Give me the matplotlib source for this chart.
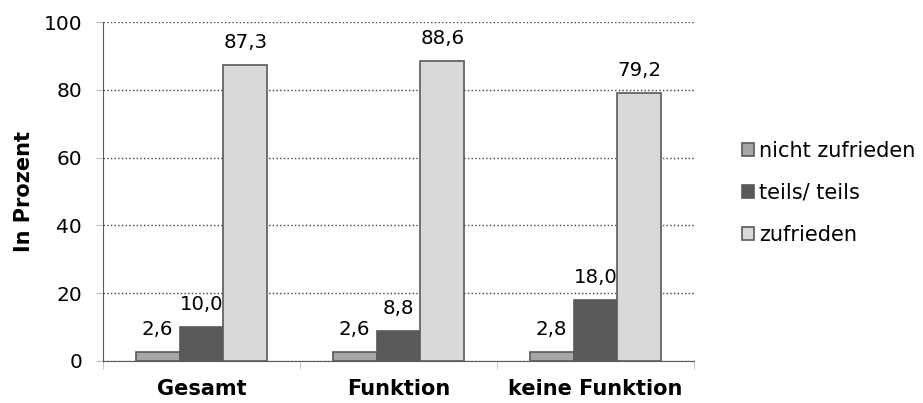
import matplotlib.pyplot as plt
import numpy as np

plt.rcParams['font.family'] = ['DejaVu Sans']

categories = ['Gesamt', 'Funktion', 'keine Funktion']
series = ['nicht zufrieden', 'teils/ teils', 'zufrieden']
values = [
    [2.6, 2.6, 2.8],
    [10.0, 8.8, 18.0],
    [87.3, 88.6, 79.2],
]
colors = ['#a6a6a6', '#595959', '#d9d9d9']

fig = plt.figure(figsize=(9.23, 4.03), dpi=100)
ax = fig.add_axes([103 / 923, 42 / 403, 591 / 923, 339 / 403])

x = np.arange(len(categories))
width = 0.223
for i, (name, vals, c) in enumerate(zip(series, values, colors)):
    pos = x + (i - 1) * width
    ax.bar(pos, vals, width, color=c, edgecolor='#5a5a5a', linewidth=1.2,
           label=name, zorder=3)
    for p, v in zip(pos, vals):
        ax.text(p, v + 3.8, f'{v:.1f}'.replace('.', ','), ha='center',
                va='bottom', fontsize=14.2)

ax.set_xlim(-0.5, 2.5)
ax.set_ylim(0, 100)
ax.set_yticks(range(0, 101, 20))
ax.tick_params(axis='y', labelsize=14.5, color='#bbbbbb', length=5, pad=10)
ax.set_xticks(x)
ax.set_xticklabels(categories, fontsize=15, fontweight='bold')
ax.tick_params(axis='x', length=0, pad=13)
ax.set_xticks([-0.5, 0.5, 1.5, 2.5], minor=True)
ax.tick_params(axis='x', which='minor', length=6, color='#bbbbbb')
ax.grid(axis='y', linestyle=':', color='#404040', linewidth=1, zorder=0)
for s in ['top', 'right']:
    ax.spines[s].set_visible(False)
ax.spines['left'].set_color('#5a5a5a')
ax.spines['bottom'].set_color('#5a5a5a')
ax.set_ylabel('In Prozent', fontsize=15, fontweight='bold', labelpad=7)

ax.legend(loc='center left', bbox_to_anchor=(1.049, 0.496), frameon=False,
          fontsize=15, handlelength=0.6, handleheight=0.6, handletextpad=0.25,
          labelspacing=1.05)

fig.savefig('out.png', dpi=100)
